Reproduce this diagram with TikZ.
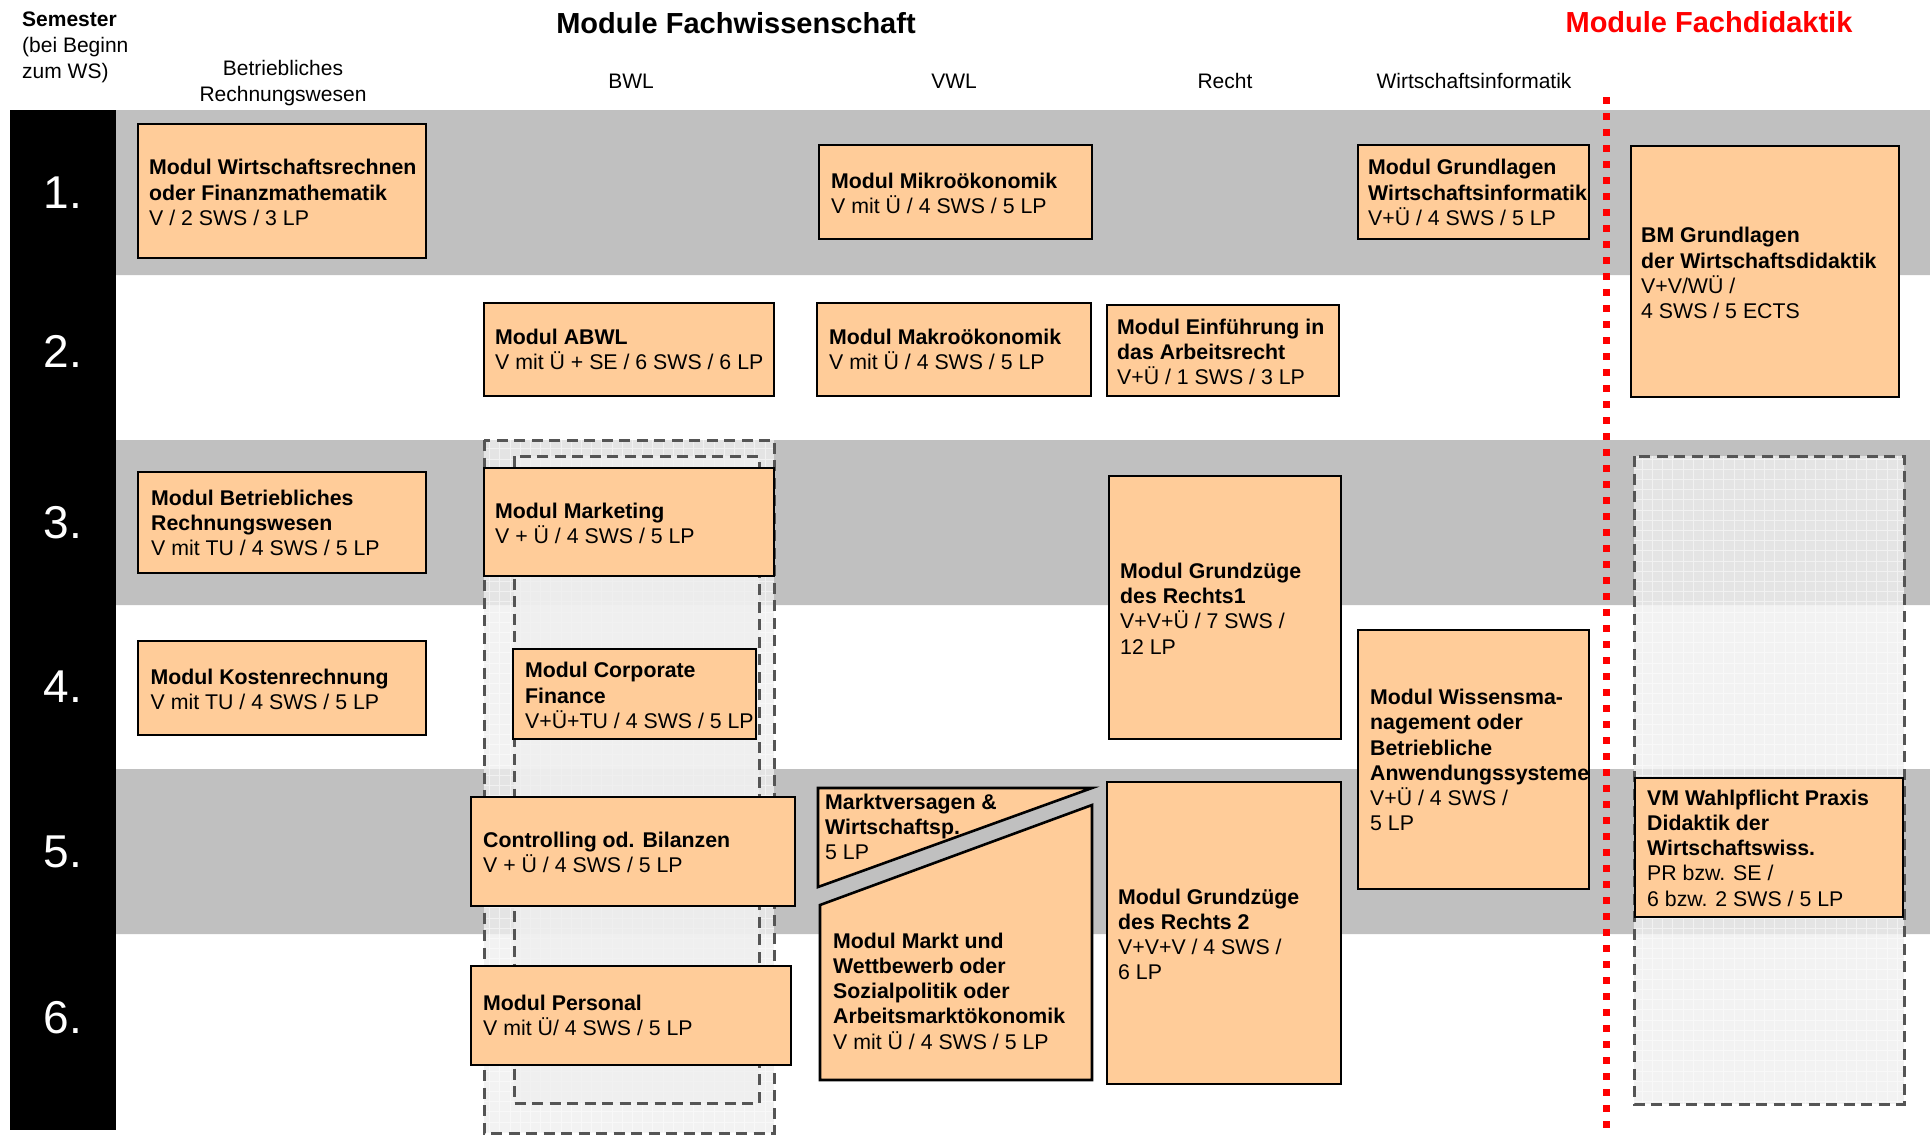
\documentclass[tikz,border=0pt]{standalone}
\usepackage{fontspec}
\setmainfont{Liberation Sans}
\definecolor{peach}{HTML}{FFCC99}
\definecolor{band}{HTML}{C0C0C0}
\definecolor{wahl}{HTML}{EFEFEF}
\definecolor{dashgray}{HTML}{555555}
\begin{document}
\begin{tikzpicture}[x=1pt, y=-1pt,
    modbox/.style={draw=black, line width=2.6pt, fill=peach},
    modtext/.style={anchor=west, align=left, inner sep=0pt, font=\fontsize{21.3}{25.2}\selectfont},
    colhead/.style={inner sep=0pt, align=center, font=\fontsize{21}{26}\selectfont},
    bigtitle/.style={inner sep=0pt, font=\fontsize{29}{34}\selectfont\bfseries},
    semno/.style={white, inner sep=0pt, font=\fontsize{46}{50}\selectfont},
    wahlfill/.style={fill=wahl, fill opacity=0.77},
    wahlgrid/.style={white, line width=0.9pt, opacity=0.5, step=10.2pt},
    wahlline/.style={draw=dashgray, line width=3pt, dash pattern=on 11pt off 6.5pt}]

    \useasboundingbox (0,0) rectangle (1930,1136);
    \fill[white] (0,0) rectangle (1930,1136);
    \fill[band] (116,110) rectangle (1930,275) (116,440) rectangle (1930,605) (116,769) rectangle (1930,934);
    \fill[black] (10,110) rectangle (116,1130);

    \fill[wahlfill] (484,440) rectangle (774,1133);
    \draw[wahlgrid] (484,1133) grid (774,440);
    \fill[wahlfill] (514,456) rectangle (759,1103);
    \fill[wahlfill] (1634,456) rectangle (1904,1104);
    \draw[wahlgrid] (1634,1104) grid (1904,456);
    \draw[wahlline] (484,440) rectangle (774,1133) (514,456) rectangle (759,1103) (1634,456) rectangle (1904,1104);

    \node[semno] (s1) at (63,193) {1.};
    \node[semno] (s2) at (63,351) {2.};
    \node[semno] (s3) at (63,523) {3.};
    \node[semno] (s4) at (63,687) {4.};
    \node[semno] (s5) at (63,852) {5.};
    \node[semno] (s6) at (63,1018) {6.};

    \node[colhead, anchor=west, align=left] (sem) at (22,47) {\textbf{Semester}\\(bei Beginn\\zum WS)};
    \node[colhead] (brwhead) at (283,83.5) {Betriebliches\\Rechnungswesen};
    \node[colhead] (bwl) at (631,81) {BWL};
    \node[colhead] (vwl) at (954,81) {VWL};
    \node[colhead] (recht) at (1225,81) {Recht};
    \node[colhead] (winf) at (1474,81) {Wirtschaftsinformatik};
    \node[bigtitle] (fachwiss) at (736,23) {Module Fachwissenschaft};
    \node[bigtitle, red] (fachdid) at (1709,22) {Module Fachdidaktik};

    \draw[modbox] (138,124) rectangle (426,258);
    \draw[modbox] (819,145) rectangle (1092,239);
    \draw[modbox] (1358,145) rectangle (1589,239);
    \draw[modbox] (1631,146) rectangle (1899,397);
    \draw[modbox] (484,303) rectangle (774,396);
    \draw[modbox] (817,303) rectangle (1091,396);
    \draw[modbox] (1107,305) rectangle (1339,396);
    \draw[modbox] (138,472) rectangle (426,573);
    \draw[modbox] (484,468) rectangle (774,576);
    \draw[modbox] (138,641) rectangle (426,735);
    \draw[modbox] (513,649) rectangle (756,739);
    \draw[modbox] (1109,476) rectangle (1341,739);
    \draw[modbox] (1358,630) rectangle (1589,889);
    \draw[modbox] (471,797) rectangle (795,906);
    \draw[modbox] (471,966) rectangle (791,1065);
    \draw[modbox] (818,788) -- (1092,788) -- (818,887) -- cycle;
    \draw[modbox] (820,905) -- (1092,805) -- (1092,1080) -- (820,1080) -- cycle;
    \draw[modbox] (1107,782) rectangle (1341,1084);
    \draw[modbox] (1635,778) rectangle (1903,917);

    \node[modtext] (wr) at (149,192.5) {\textbf{Modul Wirtschaftsrechnen}\\\textbf{oder Finanzmathematik}\\V / 2 SWS / 3 LP};
    \node[modtext] (mikro) at (831,193) {\textbf{Modul Mikroökonomik}\\V mit Ü / 4 SWS / 5 LP};
    \node[modtext] (grundwi) at (1368,192.5) {\textbf{Modul Grundlagen}\\\textbf{Wirtschaftsinformatik}\\V+Ü / 4 SWS / 5 LP};
    \node[modtext] (bmdid) at (1641,273) {\textbf{BM Grundlagen}\\\textbf{der Wirtschaftsdidaktik}\\V+V/WÜ /\\4 SWS / 5 ECTS};
    \node[modtext] (abwl) at (495,349.5) {\textbf{Modul ABWL}\\V mit Ü + SE / 6 SWS / 6 LP};
    \node[modtext] (makro) at (829,349.5) {\textbf{Modul Makroökonomik}\\V mit Ü / 4 SWS / 5 LP};
    \node[modtext] (arbr) at (1117,352) {\textbf{Modul Einführung in}\\\textbf{das Arbeitsrecht}\\V+Ü / 1 SWS / 3 LP};
    \node[modtext] (brw) at (151,523) {\textbf{Modul Betriebliches}\\\textbf{Rechnungswesen}\\V mit TU / 4 SWS / 5 LP};
    \node[modtext] (mark) at (495,523.5) {\textbf{Modul Marketing}\\V + Ü / 4 SWS / 5 LP};
    \node[modtext] (kosten) at (150.5,689.5) {\textbf{Modul Kostenrechnung}\\V mit TU / 4 SWS / 5 LP};
    \node[modtext] (corpfin) at (525,695.5) {\textbf{Modul Corporate}\\\textbf{Finance}\\V+Ü+TU / 4 SWS / 5 LP};
    \node[modtext] (recht1) at (1120,608.5) {\textbf{Modul Grundzüge}\\\textbf{des Rechts1}\\V+V+Ü / 7 SWS /\\12 LP};
    \node[modtext] (wissen) at (1370,760) {\textbf{Modul Wissensma-}\\\textbf{nagement oder}\\\textbf{Betriebliche}\\\textbf{Anwendungssysteme}\\V+Ü / 4 SWS /\\5 LP};
    \node[modtext] (contr) at (483,852.5) {\textbf{Controlling od. Bilanzen}\\V + Ü / 4 SWS / 5 LP};
    \node[modtext] (pers) at (483,1015.5) {\textbf{Modul Personal}\\V mit Ü/ 4 SWS / 5 LP};
    \node[modtext] (mversag) at (825,827) {\textbf{Marktversagen \&}\\\textbf{Wirtschaftsp.}\\5 LP};
    \node[modtext] (marktwb) at (833,991) {\textbf{Modul Markt und}\\\textbf{Wettbewerb oder}\\\textbf{Sozialpolitik oder}\\\textbf{Arbeitsmarktökonomik}\\V mit Ü / 4 SWS / 5 LP};
    \node[modtext] (recht2) at (1118,934.5) {\textbf{Modul Grundzüge}\\\textbf{des Rechts 2}\\V+V+V / 4 SWS /\\6 LP};
    \node[modtext] (vmprax) at (1647,848) {\textbf{VM Wahlpflicht Praxis}\\\textbf{Didaktik der}\\\textbf{Wirtschaftswiss.}\\PR bzw. SE /\\6 bzw. 2 SWS / 5 LP};

    \draw[red, line width=7pt, dash pattern=on 7pt off 9pt] (1606,97) -- (1606,1130);
\end{tikzpicture}
\end{document}
